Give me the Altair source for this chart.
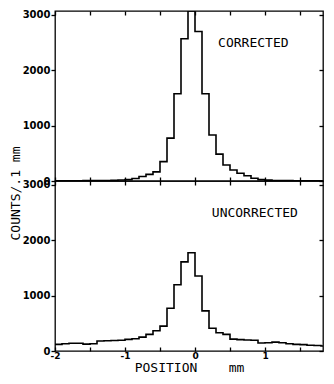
import altair as alt
import pandas as pd

# bin left edges (mm), 0.1 mm bins
edges = [round(-2.0 + 0.1 * i, 1) for i in range(41)]

corrected = [4, 4, 5, 5, 6, 7, 8, 10, 12, 18,
             25, 45, 80, 120, 165, 350, 775, 1575, 2570, 3070,
             2700, 1575, 830, 485, 290, 200, 140, 95, 50, 25,
             15, 10, 8, 6, 5, 5, 4, 4, 3, 3]
uncorrected = [120, 130, 140, 140, 125, 130, 180, 185, 190, 195,
               210, 220, 250, 300, 365, 450, 773, 1196, 1610, 1775,
               1355, 725, 410, 330, 300, 215, 205, 200, 195, 145,
               150, 160, 150, 130, 120, 115, 105, 100, 90, 85]

x_ticks = [-2.0, -1.5, -1.0, -0.5, 0.0, 0.5, 1.0, 1.5]
y_ticks = [0, 1000, 2000, 3000]
labels = ["CORRECTED", "UNCORRECTED"]
label_x = [0.33, 0.24]
label_y = [2500, 2500]

W, H = 268, 170
XDOM = [-2.0, -2.0 + W / 70.0]
YDOM = [0, 3071]
MONO = "DejaVu Sans Mono"
SANS = "DejaVu Sans"


def hist_df(vals):
    return pd.DataFrame({"x": edges, "y": vals + [vals[-1]]})


def panel(vals, label, lx, ly, bottom):
    df = hist_df(vals)
    if bottom:
        xaxis = alt.Axis(orient="bottom", values=x_ticks, tickSize=4, offset=-4,
                         domain=False, labelExpr="datum.value % 1 == 0 ? '' + datum.value : ''",
                         labelFont=SANS, labelFontWeight="bold", labelFontSize=9,
                         labelColor="black", labelPadding=0, labelFlush=False,
                         title="POSITION\u00a0\u00a0\u00a0\u00a0mm", titleFont=MONO,
                         titleFontSize=13, titleFontWeight="normal", titlePadding=1,
                         titleColor="black", tickColor="black", tickWidth=1.3, grid=False)
        ytitle = None
    else:
        xaxis = alt.Axis(orient="bottom", values=x_ticks, tickSize=8, offset=-4,
                         domain=False, labels=False, title=None,
                         tickColor="black", tickWidth=1.3, grid=False)
        ytitle = "COUNTS/.1 mm"
    yaxis_kw = dict(orient="left", values=y_ticks, tickSize=4, domain=False,
                    format="d",
                    labelFont=SANS, labelFontWeight="bold", labelFontSize=10,
                    labelColor="black", labelPadding=1, tickColor="black",
                    tickWidth=1.3, grid=False)
    if ytitle:
        yaxis = alt.Axis(title=ytitle, titleFont=MONO, titleFontSize=13,
                         titleFontWeight="normal", titleColor="black",
                         titleAngle=270, titleX=-40, titleY=H + 12,
                         titleAlign="center", titleBaseline="middle", **yaxis_kw)
    else:
        yaxis = alt.Axis(title=None, **yaxis_kw)

    line = alt.Chart(df).mark_line(interpolate="step-after", color="black",
                                   strokeWidth=1.6, clip=True).encode(
        x=alt.X("x:Q", scale=alt.Scale(domain=XDOM, nice=False, zero=False), axis=xaxis),
        y=alt.Y("y:Q", scale=alt.Scale(domain=YDOM, nice=False), axis=yaxis),
    )

    tdf = pd.DataFrame({"x": [lx], "y": [ly], "t": [label]})
    text = alt.Chart(tdf).mark_text(align="left", baseline="middle", font=MONO,
                                    fontSize=13, color="black").encode(
        x=alt.X("x:Q", scale=alt.Scale(domain=XDOM, nice=False, zero=False),
                axis=alt.Axis(orient="top", values=x_ticks, tickSize=4, offset=-4,
                              domain=False, labels=False, title=None,
                              tickColor="black", tickWidth=1.3, grid=False,
                              ticks=not bottom)),
        y=alt.Y("y:Q", scale=alt.Scale(domain=YDOM, nice=False),
                axis=alt.Axis(orient="right", values=y_ticks, tickSize=4, offset=-4,
                              domain=False, labels=False, title=None,
                              tickColor="black", tickWidth=1.3, grid=False)),
        text="t:N",
    )
    return alt.layer(line, text).resolve_axis(x="independent", y="independent").properties(
        width=W, height=H)


top = panel(corrected, labels[0], label_x[0], label_y[0], False)
bot = panel(uncorrected, labels[1], label_x[1], label_y[1], True)

chart = alt.vconcat(top, bot, spacing=0, bounds="flush").properties(
    padding={"left": 0, "top": 1, "right": 0, "bottom": 0},
    background="white",
).configure_view(stroke="black", strokeWidth=1.3)

chart.save("out.html", embed_options={"renderer": "svg", "actions": False})
